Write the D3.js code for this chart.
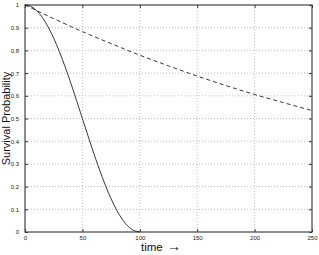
<!DOCTYPE html>
<html>
<head>
<meta charset="utf-8">
<script src="https://cdn.jsdelivr.net/npm/d3@7"></script>
<style>
  body { margin: 0; background: #fff; }
  .chart text { font-family: "Liberation Sans", Arial, sans-serif; }
</style>
</head>
<body>
<div class="chart"></div>
<script>
// solid curve: survival over time, reaches 0 at t=100
const timesA = [0, 5, 10, 15, 20, 25, 30, 35, 40, 45, 50, 55, 60, 65, 70, 75, 80, 85, 90, 95, 100];
const survA = [1, 0.994, 0.976, 0.946, 0.905, 0.854, 0.794, 0.727, 0.655, 0.578, 0.5,
  0.422, 0.345, 0.273, 0.206, 0.146, 0.095, 0.054, 0.024, 0.006, 0];

// dashed curve: slow decline
const timesB = [0, 25, 50, 75, 100, 125, 150, 175, 200, 225, 250];
const survB = [1, 0.94, 0.883, 0.83, 0.779, 0.732, 0.687, 0.645, 0.606, 0.57, 0.535];

const xTicks = [0, 50, 100, 150, 200, 250];
const yTicks = [0, 0.1, 0.2, 0.3, 0.4, 0.5, 0.6, 0.7, 0.8, 0.9, 1];

const W = 319, H = 255;
const margin = { top: 5, left: 25, right: 7, bottom: 23 };
const width = W - margin.left - margin.right;
const height = H - margin.top - margin.bottom;

const svg = d3.select(".chart")
  .append("svg")
  .attr("width", W)
  .attr("height", H);

const g = svg.append("g")
  .attr("transform", `translate(${margin.left}, ${margin.top})`);

const xScale = d3.scaleLinear().domain([0, 250]).range([0, width]);
const yScale = d3.scaleLinear().domain([0, 1]).range([height, 0]);

// grid
g.selectAll(".vgrid").data(xTicks.slice(1, -1)).enter()
  .append("line")
  .attr("x1", d => xScale(d)).attr("x2", d => xScale(d))
  .attr("y1", 0).attr("y2", height)
  .attr("stroke", "#b0b0b0").attr("stroke-width", 0.8)
  .attr("stroke-dasharray", "1,2");
g.selectAll(".hgrid").data(yTicks.slice(1, -1)).enter()
  .append("line")
  .attr("y1", d => yScale(d)).attr("y2", d => yScale(d))
  .attr("x1", 0).attr("x2", width)
  .attr("stroke", "#b0b0b0").attr("stroke-width", 0.8)
  .attr("stroke-dasharray", "1,2");

// axes with inward ticks
const fmtY = d => d === 0 ? "0" : d === 1 ? "1" : d3.format(".1f")(d);
const xAxis = g.append("g").attr("transform", `translate(0,${height})`)
  .call(d3.axisBottom(xScale).tickValues(xTicks).tickSizeInner(-3).tickSizeOuter(0).tickPadding(4));
const yAxis = g.append("g")
  .call(d3.axisLeft(yScale).tickValues(yTicks).tickFormat(fmtY).tickSizeInner(-3).tickSizeOuter(0).tickPadding(6));
const xTop = g.append("g")
  .call(d3.axisTop(xScale).tickValues(xTicks).tickFormat("").tickSizeInner(-3).tickSizeOuter(0));
const yRight = g.append("g").attr("transform", `translate(${width},0)`)
  .call(d3.axisRight(yScale).tickValues(yTicks).tickFormat("").tickSizeInner(-3).tickSizeOuter(0));

[xAxis, yAxis, xTop, yRight].forEach(a => {
  a.select(".domain").remove();
  a.selectAll("line").attr("stroke", "#333");
  a.selectAll("text").attr("font-size", 6).attr("fill", "#222");
});

g.append("rect")
  .attr("width", width).attr("height", height)
  .attr("fill", "none").attr("stroke", "#444").attr("stroke-width", 1.2);

const line = d3.line().curve(d3.curveMonotoneX);

g.append("path")
  .datum(timesA.map((t, i) => [xScale(t), yScale(survA[i])]))
  .attr("d", line)
  .attr("fill", "none").attr("stroke", "#222").attr("stroke-width", 0.9);

g.append("path")
  .datum(timesB.map((t, i) => [xScale(t), yScale(survB[i])]))
  .attr("d", line)
  .attr("fill", "none").attr("stroke", "#222").attr("stroke-width", 0.9)
  .attr("stroke-dasharray", "4,3");

// labels
svg.append("text")
  .attr("transform", `translate(10, ${margin.top + height / 2}) rotate(-90)`)
  .attr("text-anchor", "middle")
  .attr("font-size", 11)
  .attr("fill", "#111")
  .text("Survival Probability");

svg.append("text")
  .attr("x", 141).attr("y", 251)
  .attr("font-size", 11.5)
  .attr("fill", "#111")
  .text("time");

svg.append("text")
  .attr("x", 167).attr("y", 251)
  .attr("font-family", "DejaVu Sans")
  .attr("font-size", 14)
  .attr("fill", "#111")
  .text("\u2192");
</script>
</body>
</html>
